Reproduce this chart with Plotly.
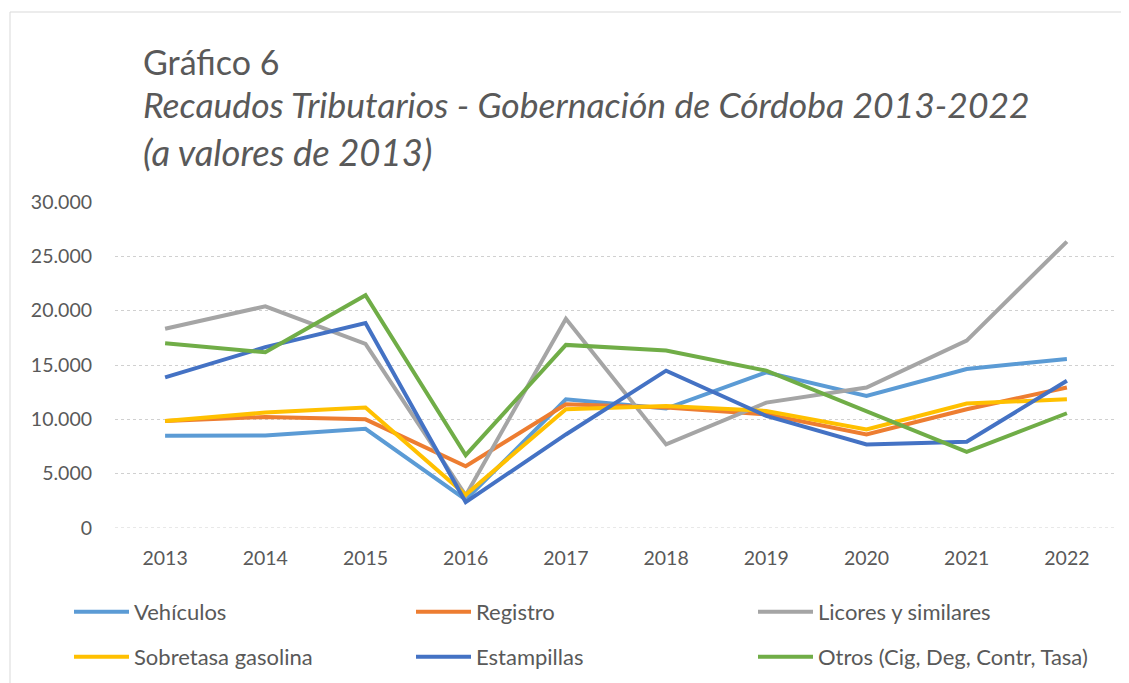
import plotly.graph_objects as go

years = ["2013", "2014", "2015", "2016", "2017", "2018", "2019", "2020", "2021", "2022"]
y_ticks = [0, 5000, 10000, 15000, 20000, 25000, 30000]
y_tick_labels = ["0", "5.000", "10.000", "15.000", "20.000", "25.000", "30.000"]

vehiculos = [8500, 8520, 9130, 2600, 11850, 10990, 14320, 12160, 14630, 15560]
registro = [9850, 10220, 10000, 5680, 11390, 11080, 10460, 8610, 10930, 12930]
licores = [18330, 20400, 16940, 3000, 19260, 7690, 11540, 12930, 17250, 26360]
sobretasa = [9850, 10620, 11080, 3050, 10930, 11230, 10770, 9070, 11450, 11850]
estampillas = [13860, 16640, 18860, 2380, 8610, 14480, 10310, 7690, 7930, 13550]
otros = [17000, 16170, 21420, 6700, 16850, 16330, 14480, 10770, 7000, 10560]

series = [
    ("Vehículos", vehiculos, "#5B9BD5", "legend"),
    ("Registro", registro, "#ED7D31", "legend"),
    ("Licores y similares", licores, "#A5A5A5", "legend"),
    ("Sobretasa gasolina", sobretasa, "#FFC000", "legend2"),
    ("Estampillas", estampillas, "#4472C4", "legend2"),
    ("Otros (Cig, Deg, Contr, Tasa)", otros, "#70AD47", "legend2"),
]

FONT = "Lato"
GRAY = "#595959"

fig = go.Figure()
for name, vals, color, leg in series:
    fig.add_trace(go.Scatter(
        x=years, y=vals, name=name, mode="lines",
        line=dict(color=color, width=4),
        legend=leg,
    ))

# page body has an 8px margin; lay out in reference pixel coordinates minus it
OFF = 8
W, H = 1129 - OFF, 683 - OFF
L = 115 - OFF
T = 202 - OFF
R = W - (1117 - OFF)
B = H - (528 - OFF)
pw = W - L - R
ph = H - T - B

def px_x(x):
    return (x - OFF - L) / pw

def px_y(y):
    return (H - B - (y - OFF)) / ph

legend_common = dict(
    orientation="h", xanchor="left", yanchor="middle",
    entrywidth=272, entrywidthmode="pixels", itemwidth=55,
    font=dict(size=22, color=GRAY), bgcolor="rgba(0,0,0,0)",
    traceorder="normal",
)

fig.update_layout(
    width=W, height=H,
    margin=dict(l=L, r=R, t=T, b=B, autoexpand=False),
    paper_bgcolor="white", plot_bgcolor="white",
    font=dict(family=FONT, color=GRAY, size=19),
    showlegend=True,
    legend=dict(x=px_x(69), y=px_y(612), **legend_common),
    legend2=dict(x=px_x(69), y=px_y(657), **legend_common),
    xaxis=dict(
        type="category", range=[-0.5, 9.5], showgrid=False, zeroline=False,
        showline=False, ticks="", tickfont=dict(size=19.5, color=GRAY),
        ticklabelstandoff=16,
    ),
    yaxis=dict(
        range=[0, 30000], tickvals=y_ticks, ticktext=y_tick_labels,
        showgrid=True, gridcolor="#D0D0D0", griddash="dot", gridwidth=1,
        zeroline=False, showline=False, ticks="",
        tickfont=dict(size=19.5, color=GRAY), ticklabelstandoff=22,
    ),
    annotations=[
        dict(text="Gráfico 6", xref="paper", yref="paper", x=px_x(141), y=px_y(61),
             xanchor="left", yanchor="middle", showarrow=False,
             font=dict(family=FONT, size=34, color=GRAY)),
        dict(text="<i>Recaudos Tributarios - Gobernación de Córdoba 2013-2022</i>",
             xref="paper", yref="paper", x=px_x(141), y=px_y(105),
             xanchor="left", yanchor="middle", showarrow=False,
             font=dict(family=FONT, size=35.5, color=GRAY)),
        dict(text="<i>(a valores de 2013)</i>",
             xref="paper", yref="paper", x=px_x(141), y=px_y(152),
             xanchor="left", yanchor="middle", showarrow=False,
             font=dict(family=FONT, size=36.5, color=GRAY)),
    ],
    shapes=[
        dict(type="line", xref="paper", yref="paper",
             x0=px_x(10), x1=px_x(1140), y0=px_y(12), y1=px_y(12),
             line=dict(color="#D9D9D9", width=1)),
        dict(type="line", xref="paper", yref="paper",
             x0=px_x(10), x1=px_x(10), y0=px_y(12), y1=px_y(690),
             line=dict(color="#D9D9D9", width=1)),
        dict(type="line", xref="paper", yref="y", layer="below",
             x0=0, x1=1, y0=0, y1=0,
             line=dict(color="#D0D0D0", width=1, dash="dot")),
    ],
)

fig.write_html("out.html")
